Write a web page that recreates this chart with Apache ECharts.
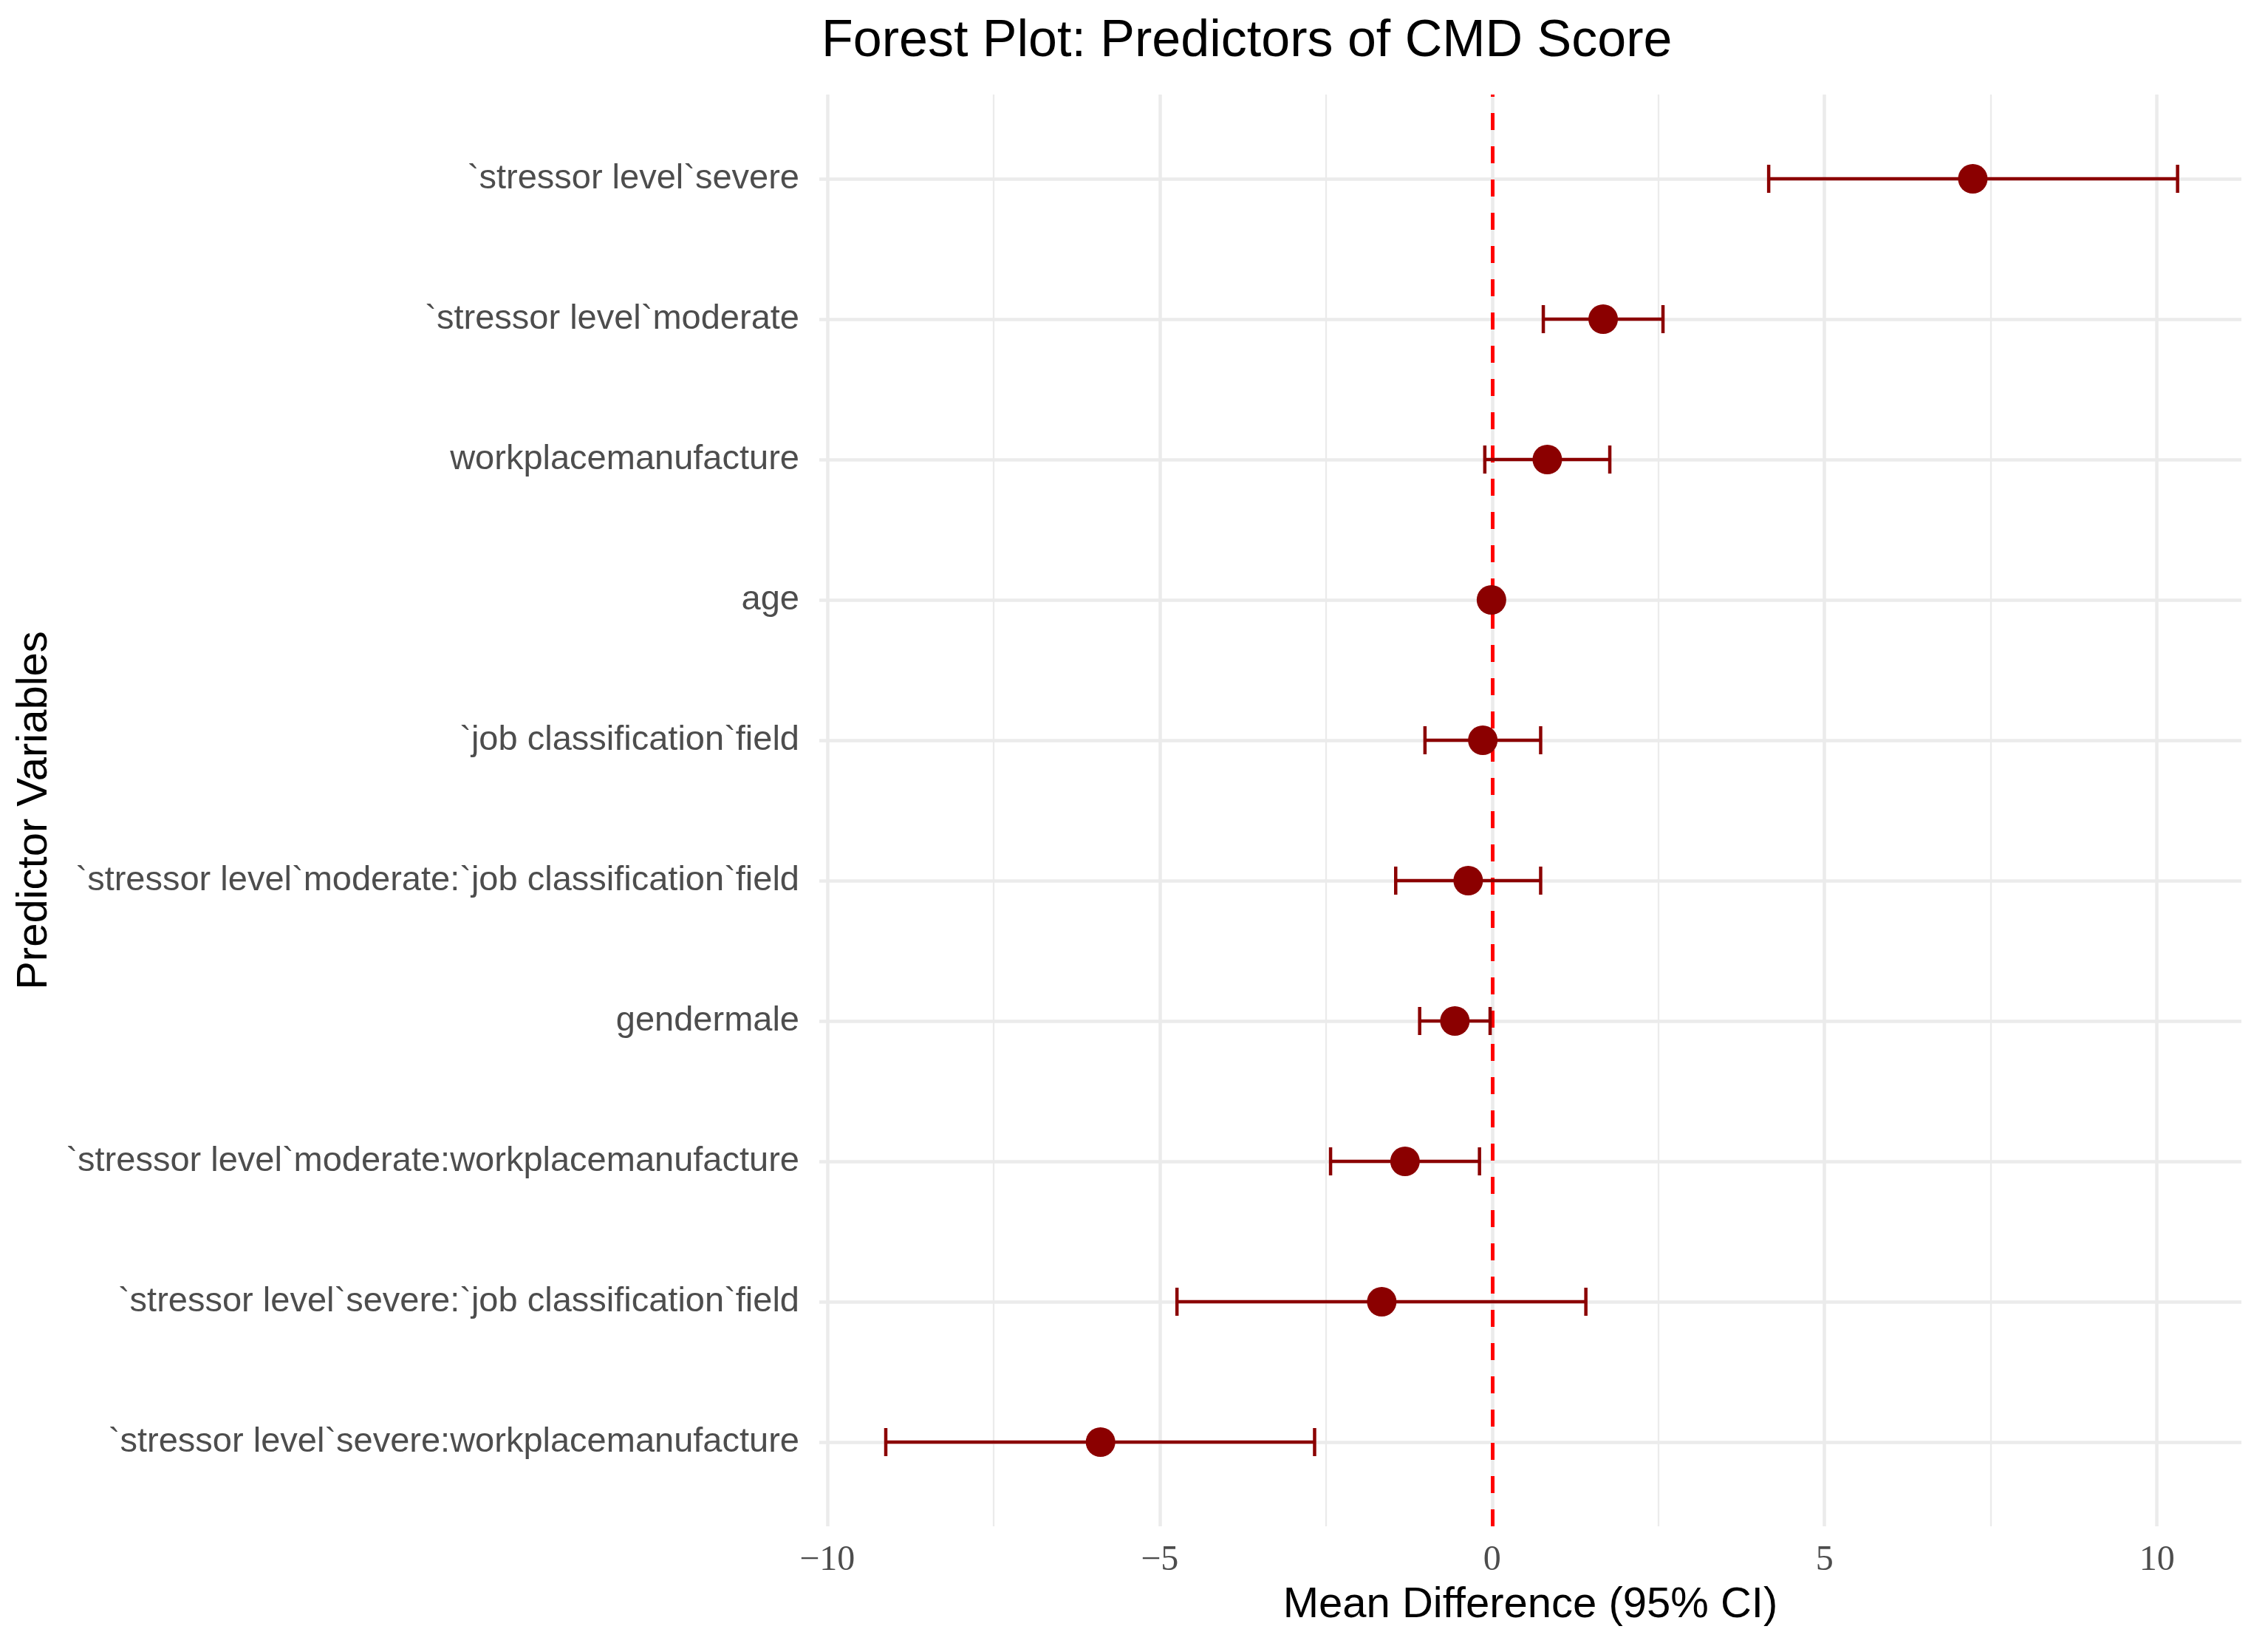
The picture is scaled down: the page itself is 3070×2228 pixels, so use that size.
<!DOCTYPE html>
<html>
<head>
<meta charset="utf-8">
<title>Forest Plot</title>
<script src="https://cdn.jsdelivr.net/npm/echarts@6/dist/echarts.min.js"></script>
<style>
  html, body { margin: 0; padding: 0; background: #fff; }
  #chart { width: 3070px; height: 2228px; }
</style>
</head>
<body>
<div id="chart"></div>
<script>
// predictors, bottom row first (same order as the y axis)
var predictors = [
    '`stressor level`severe:workplacemanufacture',
    '`stressor level`severe:`job classification`field',
    '`stressor level`moderate:workplacemanufacture',
    'gendermale',
    '`stressor level`moderate:`job classification`field',
    '`job classification`field',
    'age',
    'workplacemanufacture',
    '`stressor level`moderate',
    '`stressor level`severe'
];
var estimate = [-5.89, -1.66, -1.31, -0.56, -0.36, -0.14, -0.01, 0.83, 1.67, 7.23];
var lower    = [-9.12, -4.74, -2.43, -1.09, -1.45, -1.01, -0.04, -0.11, 0.77, 4.16];
var upper    = [-2.67,  1.41, -0.19, -0.03,  0.73,  0.73,  0.02,  1.77, 2.57, 10.31];

var xTicks = [-10, -5, 0, 5, 10];
var xMinor = [-7.5, -2.5, 2.5, 7.5];
var rows = [1, 2, 3, 4, 5, 6, 7, 8, 9, 10];

var myChart = echarts.init(document.getElementById('chart'));

var pointData = [];
var barData = [];
for (var i = 0; i < predictors.length; i++) {
    pointData.push([estimate[i], rows[i]]);
    barData.push([lower[i], upper[i], rows[i]]);
}

var gridLines = [];
xTicks.forEach(function (v) {
    gridLines.push({ xAxis: v, lineStyle: { color: '#EBEBEB', width: 4.5, type: 'solid' } });
});
xMinor.forEach(function (v) {
    gridLines.push({ xAxis: v, lineStyle: { color: '#EBEBEB', width: 2.3, type: 'solid' } });
});
rows.forEach(function (v) {
    gridLines.push({ yAxis: v, lineStyle: { color: '#EBEBEB', width: 4.5, type: 'solid' } });
});

var option = {
    backgroundColor: '#ffffff',
    animation: false,
    title: {
        text: 'Forest Plot: Predictors of CMD Score',
        left: 1112,
        top: 22,
        padding: 0,
        textStyle: {
            fontFamily: 'Liberation Sans',
            fontSize: 70,
            fontWeight: 'normal',
            color: '#000000'
        }
    },
    grid: {
        left: 1109,
        right: 36,
        top: 128,
        bottom: 162
    },
    xAxis: {
        type: 'value',
        min: -10.12,
        max: 11.27,
        axisLine: { show: false },
        axisTick: { show: false },
        splitLine: { show: false },
        axisLabel: {
            customValues: xTicks,
            margin: 22,
            fontFamily: 'Liberation Serif',
            fontSize: 48,
            color: '#4D4D4D',
            formatter: function (v) {
                return v < 0 ? '\u2212' + Math.abs(v) : String(v);
            }
        },
        name: 'Mean Difference (95% CI)',
        nameLocation: 'middle',
        nameGap: 78,
        nameTextStyle: {
            fontFamily: 'Liberation Sans',
            fontSize: 58,
            color: '#000000'
        }
    },
    yAxis: {
        type: 'value',
        min: 0.4,
        max: 10.6,
        axisLine: { show: false },
        axisTick: { show: false },
        splitLine: { show: false },
        axisLabel: {
            customValues: rows,
            margin: 27,
            fontFamily: 'Liberation Sans',
            fontSize: 47,
            color: '#4D4D4D',
            formatter: function (v) {
                return predictors[v - 1];
            }
        },
        name: 'Predictor Variables',
        nameLocation: 'middle',
        nameRotate: 90,
        nameGap: 1033,
        nameTextStyle: {
            fontFamily: 'Liberation Sans',
            fontSize: 58,
            color: '#000000'
        }
    },
    series: [
        {
            // background grid
            type: 'scatter',
            data: [],
            z: 1,
            silent: true,
            markLine: {
                z: 1,
                silent: true,
                symbol: ['none', 'none'],
                label: { show: false },
                animation: false,
                data: gridLines
            }
        },
        {
            // reference line at zero
            type: 'scatter',
            data: [],
            z: 2,
            silent: true,
            markLine: {
                z: 2,
                silent: true,
                symbol: ['none', 'none'],
                label: { show: false },
                animation: false,
                lineStyle: { color: '#FF0000', width: 5, type: [23, 22] },
                data: [{ xAxis: 0 }]
            }
        },
        {
            // 95% CI error bars
            type: 'custom',
            z: 3,
            silent: true,
            data: barData,
            encode: { x: [0, 1], y: 2 },
            renderItem: function (params, api) {
                var lo = api.coord([api.value(0), api.value(2)]);
                var hi = api.coord([api.value(1), api.value(2)]);
                var h = api.size([0, 0.2])[1] / 2;
                var style = { stroke: '#8B0000', lineWidth: 4.5, fill: null };
                return {
                    type: 'group',
                    children: [
                        { type: 'line', shape: { x1: lo[0], y1: lo[1], x2: hi[0], y2: hi[1] }, style: style },
                        { type: 'line', shape: { x1: lo[0], y1: lo[1] - h, x2: lo[0], y2: lo[1] + h }, style: style },
                        { type: 'line', shape: { x1: hi[0], y1: hi[1] - h, x2: hi[0], y2: hi[1] + h }, style: style }
                    ]
                };
            }
        },
        {
            // point estimates
            type: 'scatter',
            z: 4,
            data: pointData,
            symbol: 'circle',
            symbolSize: 40,
            itemStyle: { color: '#8B0000', opacity: 1 }
        }
    ]
};

myChart.setOption(option);
</script>
</body>
</html>
